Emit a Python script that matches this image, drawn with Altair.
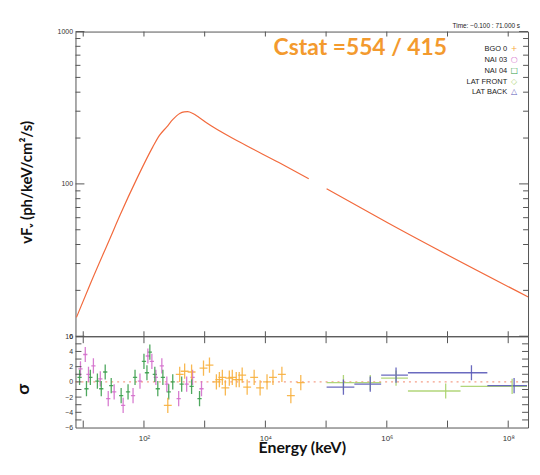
import altair as alt
import numpy as np
import pandas as pd

# ---------------- data ----------------
# model curve (Band function), two segments (gap between BGO and LAT ranges)
model_energy_1 = [7.73, 13.1, 27.8, 40.6, 76.8, 140, 180, 238, 300, 388, 460, 524, 640, 800, 1072, 3707, 16700, 51800]
model_flux_1 = [13.3, 22.1, 44.2, 62.7, 108.7, 175, 208, 237, 265, 290, 297, 298, 290, 274, 252, 189, 138, 108]
model_energy_2 = [1.02e5, 1.05e6, 2.38e8]
model_flux_2 = [93, 55.3, 17.7]

# residuals (sigma)
nai3_energy = [9.0, 10.8, 12.2, 14.7, 19.1, 25.8, 32.3, 45.4, 66.1, 86.0, 116, 135, 157, 197, 238, 373, 505, 632, 887]
nai3_resid = [1.7, 3.6, 1.0, 2.1, 0.4, -2.2, -1.3, -3.1, -1.8, 0.1, 3.4, 2.7, 0.6, 2.1, -0.3, -2.2, -0.3, 0.6, -0.9]

nai4_energy = [8.7, 11.3, 13.1, 17.1, 19.8, 23.0, 28.9, 42.1, 54.7, 71.3, 100, 112, 125, 151, 169, 205, 256, 298, 418, 609, 823]
nai4_resid = [0.6, -0.9, 0.6, 0.1, -0.9, 1.3, -0.5, -1.8, -1.3, 0.6, 2.7, 1.2, 3.9, 1.0, -0.9, 0.6, -1.3, 0.0, -0.3, -0.6, -2.2]

bgo_energy = [247, 388, 468, 609, 957, 1200, 1560, 1747, 1955, 2191, 2547, 2851, 3313, 3707, 4150, 5012, 6531, 8185, 10650, 13340, 18710, 26290, 38300]
bgo_resid = [-3.1, 1.0, 1.4, 1.3, 1.8, 2.2, 0.0, 0.3, 0.6, -0.8, 0.5, 0.6, 0.3, 0.3, 0.9, -0.7, 0.6, -0.8, 0.0, 0.6, 1.0, -1.8, -0.1]

latf_energy = [1.93e5, 5.34e5, 1.42e6, 9.33e6, 1.16e8]
latf_lo = [1.02e5, 2.92e5, 8.07e5, 2.23e6, 1.64e7]
latf_hi = [2.92e5, 8.07e5, 2.23e6, 1.64e7, 2.04e8]
latf_resid = [-0.1, -0.1, 0.5, -1.2, -0.6]

latb_energy = [1.93e5, 5.34e5, 1.42e6, 2.48e7, 1.25e8]
latb_lo = [1.02e5, 2.92e5, 8.07e5, 2.23e6, 4.53e7]
latb_hi = [2.92e5, 8.07e5, 2.23e6, 4.53e7, 2.04e8]
latb_resid = [-0.7, -0.3, 0.9, 1.2, -0.5]

detectors = ["NAI 03", "NAI 04", "BGO 0", "LAT FRONT", "LAT BACK"]
det_colors = ["#D46FCC", "#3C9E4E", "#F7B03E", "#A9D26B", "#5A5AB8"]

legend_labels = ["BGO 0", "NAI 03", "NAI 04", "LAT FRONT", "LAT BACK"]
legend_symbols = ["+", "○", "□", "◇", "△"]
legend_colors = ["#F7A83A", "#D46FCC", "#2E9A45", "#A9D26B", "#5A5AB8"]

x_tick_values = [10, 100, 1e3, 1e4, 1e5, 1e6, 1e7, 1e8]
x_label_values = [100, 1e4, 1e6, 1e8]
y_major = [10, 100, 1000]
y_minor = [20, 30, 40, 50, 60, 70, 80, 90, 200, 300, 400, 500, 600, 700, 800, 900]
r_label_values = [-6, -4, -2, 0, 2, 4, 6]
r_ticks = [-5, -4, -3, -2, -1, 0, 1, 2, 3, 4, 5]

# ---------------- build tables ----------------
W, H1, H2 = 456, 307, 92
xdom = [7.45, 2.12e8]
xs = alt.Scale(type="log", domain=xdom, nice=False)
ys = alt.Scale(type="log", domain=[10, 1000], nice=False)
rs = alt.Scale(domain=[-6, 6], nice=False)

model = pd.DataFrame({
    "E": model_energy_1 + model_energy_2,
    "F": model_flux_1 + model_flux_2,
    "seg": [1] * len(model_energy_1) + [2] * len(model_energy_2),
})


def det_frame(name, E, R, hw=None, lo=None, hi=None):
    E = np.asarray(E, float)
    R = np.asarray(R, float)
    if lo is None:
        lo = E / 10 ** hw
        hi = E * 10 ** hw
    return pd.DataFrame({"det": name, "E": E, "lo": lo, "hi": hi, "r": R, "rlo": R - 1, "rhi": R + 1})


res = pd.concat([
    det_frame("NAI 03", nai3_energy, nai3_resid, hw=0.035),
    det_frame("NAI 04", nai4_energy, nai4_resid, hw=0.035),
    det_frame("BGO 0", bgo_energy, bgo_resid, hw=0.065),
    det_frame("LAT FRONT", latf_energy, latf_resid, lo=latf_lo, hi=latf_hi),
    det_frame("LAT BACK", latb_energy, latb_resid, lo=latb_lo, hi=latb_hi),
], ignore_index=True)

color = alt.Color("det:N", scale=alt.Scale(domain=detectors, range=det_colors), legend=None)
TICK = "#555555"

# ---------------- axes (same object used by every layer so they merge) ----------------
main_y_axis = alt.Axis(values=y_major, labelExpr="format(datum.value, 'd')", ticks=False, tickSize=0,
                       domain=False, grid=False, labelFontSize=7, labelPadding=3, labelColor="#333",
                       title="vFᵥ (ph/keV/cm²/s)", titleFont="Lato", titleFontWeight="bold",
                       titleFontSize=15, titleColor="#111", titleX=-49, titleY=H1 / 2 - 2,
                       titleBaseline="middle", titleAngle=270)

r_axis = alt.Axis(values=r_label_values, ticks=False, tickSize=0, domain=False, grid=False,
                  labelFontSize=7, labelPadding=3, labelColor="#333",
                  title="σ", titleFont="Lato", titleFontWeight="bold", titleFontSize=18,
                  titleColor="#111", titleX=-52, titleY=53, titleBaseline="middle", titleAngle=270)

x_axis = alt.Axis(values=x_label_values,
                  labelExpr="datum.value == 100 ? '10²' : datum.value == 10000 ? '10⁴' : datum.value == 1000000 ? '10⁶' : '10⁸'",
                  ticks=False, tickSize=0, domain=False, grid=False, labelFontSize=8, labelPadding=7,
                  labelColor="#333", title="Energy (keV)", titleFont="Lato", titleFontWeight="bold",
                  titleFontSize=16, titleColor="#111", titleY=20, titleBaseline="middle")


def yticks(df, scale, axis, length, w):
    l = alt.Chart(df).mark_rule(color=TICK, strokeWidth=1).encode(
        y=alt.Y("v:Q", scale=scale, axis=axis), x=alt.value(0), x2=alt.value(length))
    r = alt.Chart(df).mark_rule(color=TICK, strokeWidth=1).encode(
        y=alt.Y("v:Q", scale=scale, axis=axis), x=alt.value(w), x2=alt.value(w - length))
    return [l, r]


def xticks(df, axis, length, h):
    t = alt.Chart(df).mark_rule(color=TICK, strokeWidth=1).encode(
        x=alt.X("v:Q", scale=xs, axis=axis), y=alt.value(0), y2=alt.value(length))
    b = alt.Chart(df).mark_rule(color=TICK, strokeWidth=1).encode(
        x=alt.X("v:Q", scale=xs, axis=axis), y=alt.value(h), y2=alt.value(h - length))
    return [t, b]


ymaj = pd.DataFrame({"v": y_major})
ymin = pd.DataFrame({"v": y_minor})
xt = pd.DataFrame({"v": x_tick_values})
rt = pd.DataFrame({"v": r_ticks})

# ---------------- main panel ----------------
line = alt.Chart(model).mark_line(color="#F26A3D", strokeWidth=1.2, clip=True, interpolate="monotone").encode(
    x=alt.X("E:Q", scale=xs, axis=None),
    y=alt.Y("F:Q", scale=ys, axis=main_y_axis),
    detail="seg:N",
)

cstat = alt.Chart(pd.DataFrame({"t": ["Cstat =554 / 415"]})).mark_text(
    font="Lato", fontWeight="bold", fontSize=23, color="#F39A2E", align="center", baseline="middle"
).encode(text="t:N", x=alt.value(287), y=alt.value(17))

timetxt = alt.Chart(pd.DataFrame({"t": ["Time: −0.100 : 71.000 s"]})).mark_text(
    font="Liberation Sans", fontSize=6.5, color="#222", align="right", baseline="middle"
).encode(text="t:N", x=alt.value(448), y=alt.value(-6))

legend_layers = []
for i, (lab, sym, col) in enumerate(zip(legend_labels, legend_symbols, legend_colors)):
    yy = 18 + i * 10.8
    legend_layers.append(alt.Chart(pd.DataFrame({"t": [lab]})).mark_text(
        font="Liberation Sans", fontSize=7.5, color="#222", align="right", baseline="middle"
    ).encode(text="t:N", x=alt.value(435), y=alt.value(yy)))
    legend_layers.append(alt.Chart(pd.DataFrame({"t": [sym]})).mark_text(
        font="DejaVu Sans", fontSize=8, color=col, align="center", baseline="middle"
    ).encode(text="t:N", x=alt.value(442), y=alt.value(yy)))

main = alt.layer(
    line,
    *yticks(ymaj, ys, main_y_axis, 9, W),
    *yticks(ymin, ys, main_y_axis, 5, W),
    *xticks(xt, None, 5, H1),
    cstat, timetxt, *legend_layers,
).properties(width=W, height=H1)

# ---------------- residual panel ----------------
zero = alt.Chart(pd.DataFrame({"E": [xdom[0], xdom[1]], "r": [0, 0]})).mark_line(
    color="#F5A089", strokeWidth=1.2, strokeDash=[2, 4]
).encode(x=alt.X("E:Q", scale=xs, axis=x_axis), y=alt.Y("r:Q", scale=rs, axis=r_axis))

hbar = alt.Chart(res).mark_rule(strokeWidth=1.3, opacity=0.9, clip=True).encode(
    x=alt.X("lo:Q", scale=xs, axis=x_axis), x2="hi:Q",
    y=alt.Y("r:Q", scale=rs, axis=r_axis), color=color)
vbar = alt.Chart(res).mark_rule(strokeWidth=1.3, opacity=0.9, clip=True).encode(
    x=alt.X("E:Q", scale=xs, axis=x_axis),
    y=alt.Y("rlo:Q", scale=rs, axis=r_axis), y2="rhi:Q", color=color)

resid = alt.layer(
    zero, hbar, vbar,
    *yticks(rt, rs, r_axis, 6, W),
    *xticks(xt, x_axis, 7, H2),
).properties(width=W, height=H2)

chart = alt.vconcat(main, resid, spacing=0, bounds="flush").properties(
    padding={"left": 6, "top": 12, "right": 1, "bottom": 5},
    background="white",
).configure_view(stroke="#555555", strokeWidth=1)

chart.save("out.html", embed_options={"renderer": "svg", "actions": False})
